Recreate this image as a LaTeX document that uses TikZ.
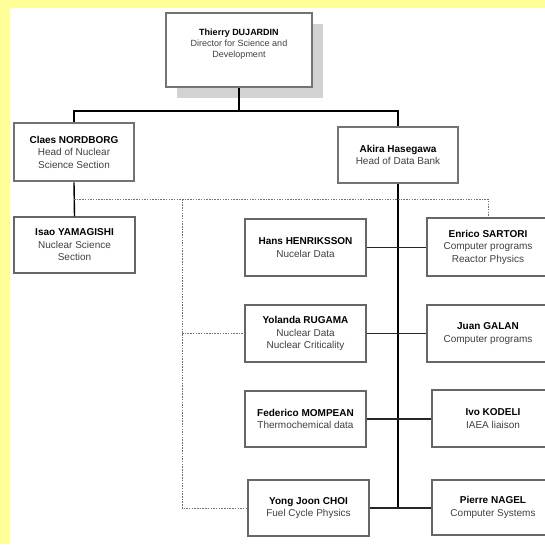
\documentclass[tikz,border=0pt]{standalone}
\usepackage{fontspec}
\setmainfont{Liberation Sans}
\definecolor{bgyellow}{HTML}{FFFF99}
\newcommand\pname[1]{\textcolor{black}{\bfseries #1}}
\begin{document}
\begin{tikzpicture}[x=1pt,y=-1pt,
  box/.style={draw=black!60, line width=1.2pt, fill=white, align=center, inner sep=2pt,
    font=\fontsize{10}{12.5}\selectfont, text=black!75, minimum width=121pt, minimum height=56pt},
  bigbox/.style={box, line width=2.6pt, draw=black!55},
  con/.style={draw=black, line width=1.4pt},
  hcon/.style={draw=black!85, line width=1.1pt},
  dsh/.style={draw=black!55, line width=0.8pt, dash pattern=on 1.5pt off 1.2pt}]
\useasboundingbox (0,0) rectangle (545,544);
\fill[bgyellow] (0,0) rectangle (545,544);
\fill[white] (10,8) rectangle (545,544);
% shadow of top box
\fill[gray!35] (177,24) rectangle (323,98);
\node[bigbox, minimum width=146pt, minimum height=74pt] (top) at (239,50) {};
\node[align=center, inner sep=0pt, text=black!75, font=\fontsize{9}{10.8}\selectfont] (topl) at (239,44)
  {\pname{Thierry DUJARDIN}\\Director for Science and\\Development};
\node[bigbox, minimum width=120pt, minimum height=58pt] (claes) at (74,152)
  {\pname{Claes NORDBORG}\\Head of Nuclear\\Science Section};
\node[bigbox, minimum width=120pt] (akira) at (398,155)
  {\pname{Akira Hasegawa}\\Head of Data Bank};
\node[box] (isao) at (74.5,245) {\pname{Isao YAMAGISHI}\\Nuclear Science\\Section};
\node[box, minimum height=57pt] (hans) at (305.5,247.5) {\pname{Hans HENRIKSSON}\\Nucelar Data};
\node[box, minimum height=57pt] (yolanda) at (305.5,333.5) {\pname{Yolanda RUGAMA}\\Nuclear Data\\Nuclear Criticality};
\node[box] (federico) at (305.5,419) {\pname{Federico MOMPEAN}\\Thermochemical data};
\node[box] (yong) at (308.5,508) {\pname{Yong Joon CHOI}\\Fuel Cycle Physics};
\node[box, minimum width=122pt, minimum height=58pt] (enrico) at (488,247) {\pname{Enrico SARTORI}\\Computer programs\\Reactor Physics};
\node[box, minimum width=122pt, minimum height=57pt] (juan) at (488,333.5) {\pname{Juan GALAN}\\Computer programs};
\node[box, minimum width=122pt, minimum height=57pt] (ivo) at (493,418.5) {\pname{Ivo KODELI}\\IAEA liaison};
\node[box, minimum width=122pt, minimum height=55pt] (pierre) at (493,507.5) {\pname{Pierre NAGEL}\\Computer Systems};
% solid hierarchy
\coordinate (j) at (239,111);
\coordinate (bus) at (398,508);
\draw[con] (top.south) -- (j);
\draw[con] (claes.north) |- (j) -| (akira.north);
\draw[con] (claes.south) -- (isao.north);
\draw[con] (akira.south) -- (bus);
\draw[hcon] (hans.east) -- (hans.east -| enrico.west);
\draw[hcon] (yolanda.east) -- (yolanda.east -| juan.west);
\draw[hcon] (federico.east) -- (federico.east -| ivo.west);
\draw[hcon] (yong.east) -- (yong.east -| pierre.west);
% dashed links
\coordinate (d1) at (74,199);
\coordinate (d2) at (182,199);
\coordinate (d3) at (182,333.5);
\draw[dsh] (d1) -| (enrico.north);
\draw[dsh] (d2) |- (yong.west);
\draw[dsh] (d3) -- (yolanda.west);
\end{tikzpicture}
\end{document}
